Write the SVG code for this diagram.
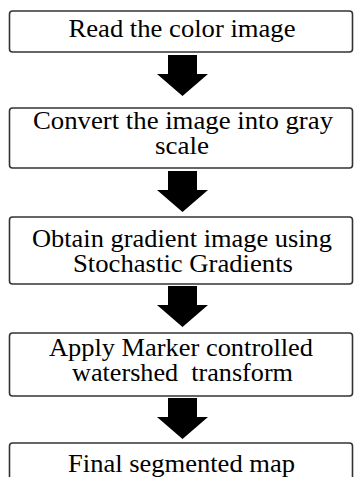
<svg xmlns="http://www.w3.org/2000/svg" width="354" height="477" viewBox="0 0 354 477">
  <style>
    .box { fill: #ffffff; stroke: #333333; stroke-width: 1.6; }
    .lbl { font-family: "Liberation Serif", "Times New Roman", serif; font-size: 24.5px; fill: #000000; text-anchor: middle; }
    .arrow { fill: #000000; stroke: none; }
  </style>
  <defs>
    <!-- block arrow pointing down, origin at the top centre of the shaft -->
    <polygon id="blockArrow" class="arrow" points="-14.5,0 14.5,0 14.5,19 25.5,19 0,41 -25.5,19 -14.5,19"/>
  </defs>
  <rect width="354" height="477" fill="#ffffff"/>

  <g id="connectors">
    <use href="#blockArrow" x="182.5" y="55"/>
    <use href="#blockArrow" x="182.5" y="171"/>
    <use href="#blockArrow" x="182.5" y="286"/>
    <use href="#blockArrow" x="182.5" y="398"/>
  </g>

  <g id="read">
    <rect class="box" x="9.5" y="11" width="343" height="41" rx="3"/>
    <text class="lbl" x="182" y="37" textLength="227" lengthAdjust="spacingAndGlyphs">Read the color image</text>
  </g>

  <g id="gray">
    <rect class="box" x="9.5" y="108" width="343" height="60" rx="3"/>
    <text class="lbl" x="183" y="129" textLength="300" lengthAdjust="spacingAndGlyphs">Convert the image into gray</text>
    <text class="lbl" x="182" y="154" textLength="54" lengthAdjust="spacingAndGlyphs">scale</text>
  </g>

  <g id="gradient">
    <rect class="box" x="9.5" y="217" width="343" height="67" rx="3"/>
    <text class="lbl" x="182" y="247" textLength="300" lengthAdjust="spacingAndGlyphs">Obtain gradient image using</text>
    <text class="lbl" x="183" y="272" textLength="220" lengthAdjust="spacingAndGlyphs">Stochastic Gradients</text>
  </g>

  <g id="watershed">
    <rect class="box" x="9.5" y="333" width="343" height="63" rx="3"/>
    <text class="lbl" x="181" y="356" textLength="264" lengthAdjust="spacingAndGlyphs">Apply Marker controlled</text>
    <text class="lbl" x="182.5" y="381" textLength="221" lengthAdjust="spacingAndGlyphs" xml:space="preserve">watershed  transform</text>
  </g>

  <g id="final">
    <rect class="box" x="9.5" y="443" width="343" height="50" rx="3"/>
    <text class="lbl" x="181.5" y="472" textLength="227" lengthAdjust="spacingAndGlyphs">Final segmented map</text>
  </g>
</svg>
